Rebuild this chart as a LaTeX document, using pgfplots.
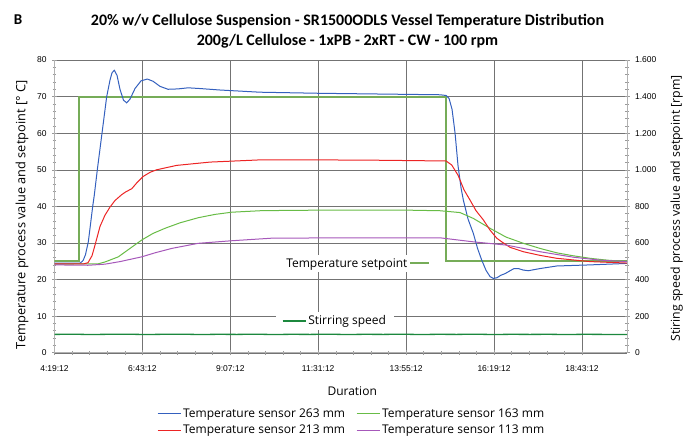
\documentclass[border=0pt]{standalone}
\usepackage{fontspec}
\setmainfont{Open Sans}
\newfontfamily\titlefont{Carlito}
\newfontfamily\tickfont{Liberation Sans}
\usepackage{pgfplots}
\pgfplotsset{compat=1.18}
\definecolor{cblue}{RGB}{52,96,190}
\definecolor{cred}{RGB}{236,36,36}
\definecolor{cgreen}{RGB}{104,188,70}
\definecolor{cpurple}{RGB}{166,88,186}
\definecolor{csetp}{RGB}{118,172,88}
\definecolor{cstir}{RGB}{28,136,62}
\begin{document}
\begin{tikzpicture}
\path[use as bounding box] (-54.5bp,-90.3bp) rectangle (639.5bp,352.7bp);
\pgfplotsset{
  base/.style={at={(0,0)},anchor=south west,scale only axis,
    width=572.5bp,height=292.7bp,xmin=4.32,xmax=19.95},
  tickf/.style={font=\tickfont\fontsize{8.5bp}{10bp}\selectfont},
}
% axis 1: grid, left axis, setpoint
\begin{axis}[base,ymin=0,ymax=80,
  axis x line*=bottom, axis y line*=left,
  axis line style={black!30,line width=0.6bp},
  xtick={4.32,6.72,9.12,11.52,13.92,16.32,18.72},
  xticklabels={4:19:12,6:43:12,9:07:12,11:31:12,13:55:12,16:19:12,18:43:12},
  minor x tick num=4,
  ytick={0,10,...,80}, minor y tick num=4,
  grid=major, major grid style={black!55,line width=0.4bp},
  tick style={black!40,line width=0.5bp},
  major tick length=5bp, minor tick length=4bp, tick align=center,
  /pgf/number format/assume math mode=true,
  xticklabel style={tickf,yshift=-7bp},
  yticklabel style={tickf,xshift=-2bp},
  xlabel={Duration},
  xlabel style={at={(axis description cs:0.52,-0.131)},anchor=center,font=\fontsize{12bp}{14bp}\selectfont},
  ylabel={Temperature process value and setpoint [\textdegree\ C]},
  ylabel style={at={(axis description cs:-0.0568,0.471)},anchor=center,rotate=0,font=\fontsize{12.8bp}{14bp}\selectfont},
  legend plot pos=right,
  legend image code/.code={\draw[#1] (0bp,0bp) -- (19bp,0bp);},
  legend style={at={(0.529,0.305)},anchor=center,draw=none,fill=white,
    inner xsep=6bp,inner ysep=1bp,font=\fontsize{12bp}{14bp}\selectfont},
]
\addplot[csetp,line width=2bp] coordinates {(4.32,25) (5.0,25) (5.0,70) (15.0,70) (15.0,25) (19.95,25)};
\addlegendentry{Temperature setpoint}
\end{axis}
% axis 2: sensors
\begin{axis}[base,ymin=0,ymax=80,hide axis,
  legend columns=2,
  legend image code/.code={\draw[#1] (0bp,0bp) -- (23bp,0bp);},
  legend style={at={(0.519,-0.237)},anchor=center,draw=none,fill=none,
    font=\fontsize{12bp}{14bp}\selectfont,
    /tikz/every even column/.append style={column sep=9bp},
    row sep=2bp, cells={anchor=west}},
]
\addplot[cblue,line width=1bp] coordinates {
(4.32,24.5) (5.016,24.5) (5.071,24.9) (5.106,25.3) (5.166,26.8) (5.243,30.3)
(5.308,35.5) (5.363,40) (5.407,43.1) (5.489,50) (5.617,60) (5.745,70)
(5.835,74.5) (5.890,76.5) (5.953,77.2) (6.027,75.8) (6.108,72.0) (6.204,69.0)
(6.291,68.3) (6.381,69.3) (6.518,72.2) (6.682,74.3) (6.854,74.8) (7.009,74.2)
(7.200,72.8) (7.419,72.0) (7.692,72.1) (7.965,72.4) (8.293,72.2) (8.837,71.8)
(9.930,71.2) (11.569,70.9) (13.207,70.7) (14.846,70.5) (15.010,70.3)
(15.092,69.5) (15.174,66.5) (15.256,60) (15.338,51) (15.420,45) (15.482,41.7)
(15.611,36.5) (15.755,32.6) (15.870,28.5) (15.984,25.3) (16.102,22.5)
(16.211,20.8) (16.301,20.3) (16.402,20.5) (16.511,21.2) (16.620,21.6)
(16.757,22.4) (16.866,23.0) (16.984,23.0) (17.112,22.6) (17.257,22.4)
(17.412,22.7) (17.576,23.0) (18.032,23.7) (18.941,24.0) (19.95,24.4)};
\addlegendentry{Temperature sensor 263 mm}
\addplot[cgreen,line width=1bp] coordinates {
(4.32,24.2) (5.516,24.3) (5.699,24.8) (6.062,26.2) (6.381,28.5) (6.701,30.8)
(7.009,32.6) (7.337,34.0) (7.747,35.5) (8.246,36.9) (8.702,37.8) (9.158,38.4)
(9.931,38.8) (10.695,38.9) (12.252,39.0) (13.753,39.0) (14.846,38.8)
(15.392,38.3) (15.755,36.7) (16.211,34.0) (16.648,31.6) (17.120,29.9)
(17.576,28.5) (18.032,27.3) (18.477,26.5) (18.941,25.8) (19.405,25.3) (19.95,24.9)};
\addlegendentry{Temperature sensor 163 mm}
\addplot[cred,line width=1bp] coordinates {
(4.32,24.3) (5.125,24.3) (5.235,24.6) (5.344,26.5) (5.426,29.4) (5.562,34.5)
(5.699,37.6) (5.835,39.8) (5.972,41.6) (6.155,43.2) (6.272,44.0) (6.428,44.8)
(6.573,46.5) (6.745,48.2) (6.928,49.3) (7.110,50.0) (7.657,51.2) (8.566,52.1)
(9.930,52.7) (11.569,52.7) (13.207,52.6) (15.010,52.4) (15.165,51.3)
(15.338,48.5) (15.501,44.5) (15.665,41.7) (15.829,38.8) (16.028,36.3)
(16.211,33.5) (16.394,31.3) (16.530,30.3) (16.757,28.8) (17.120,27.6)
(17.576,26.6) (18.032,25.8) (18.941,24.9) (19.95,24.5)};
\addlegendentry{Temperature sensor 213 mm}
\addplot[cpurple,line width=1bp] coordinates {
(4.32,24.0) (5.235,23.9) (5.699,24.2) (6.108,24.9) (6.701,26.2) (7.064,27.3)
(7.520,28.5) (8.246,29.9) (9.158,30.6) (10.250,31.3) (12.252,31.4)
(14.846,31.4) (15.755,30.3) (16.666,29.4) (17.576,27.6) (18.486,26.1)
(19.215,25.3) (19.95,24.9)};
\addlegendentry{Temperature sensor 113 mm}
\end{axis}
% axis 3: stirring speed, right axis
\begin{axis}[base,ymin=0,ymax=1600,
  axis x line=none, axis y line*=right,
  axis line style={black!30,line width=0.6bp},
  ytick={0,200,...,1600}, minor y tick num=4,
  tick style={black!40,line width=0.5bp},
  major tick length=5bp, minor tick length=4bp, tick align=center,
  /pgf/number format/.cd,assume math mode=true,1000 sep={.},/pgfplots/.cd,
  yticklabel style={tickf,xshift=2bp},
  ylabel={Stiring speed process value and setpoint [rpm]},
  ylabel style={at={(axis description cs:1.0868,0.4926)},anchor=center,rotate=0,font=\fontsize{12.3bp}{14bp}\selectfont},
  legend image code/.code={\draw[#1] (0bp,0bp) -- (23bp,0bp);},
  legend style={at={(0.490,0.108)},anchor=center,draw=none,fill=white,
    inner xsep=6bp,inner ysep=2bp,font=\fontsize{12bp}{14bp}\selectfont},
]
\addplot[cstir,line width=1.3bp] coordinates {
(4.32,100) (4.8,101) (5.3,99.5) (5.8,100.5) (6.3,101) (6.8,99.5) (7.3,100.5)
(7.8,101) (8.3,99.5) (8.8,100.5) (9.3,100) (9.8,101) (10.3,99.5) (10.8,100.5)
(11.3,100) (11.8,101) (12.3,99.5) (12.8,100.5) (13.3,100) (13.8,101)
(14.3,99.5) (14.8,100.5) (15.3,100) (15.8,101) (16.3,99.5) (16.8,100.5)
(17.3,100) (17.8,100.5) (18.3,99.5) (18.8,100.5) (19.3,100) (19.95,100)};
\addlegendentry{Stirring speed}
\end{axis}
\node[font=\titlefont\bfseries\fontsize{16bp}{18bp}\selectfont] at (293bp,331.7bp) {20\% w/v Cellulose Suspension - SR1500ODLS Vessel Temperature Distribution};
\node[font=\titlefont\bfseries\fontsize{16bp}{18bp}\selectfont] at (293bp,311.2bp) {200g/L Cellulose - 1xPB - 2xRT - CW - 100 rpm};
\node[font=\titlefont\bfseries\fontsize{15bp}{17bp}\selectfont] at (-36.5bp,332.7bp) {B};
\end{tikzpicture}
\end{document}
